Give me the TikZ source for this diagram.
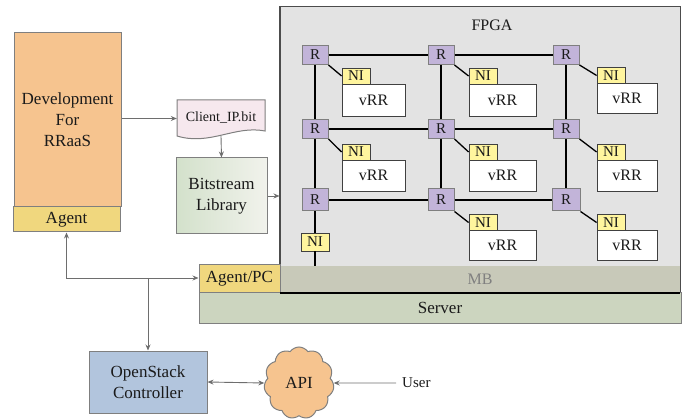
\documentclass[tikz,border=0pt]{standalone}
\usepackage{fontspec}
\setmainfont{Liberation Serif}
\usetikzlibrary{shapes.symbols,arrows.meta}
\definecolor{bordergray}{HTML}{7F7F7F}
\definecolor{devfill}{HTML}{F6C48F}
\definecolor{agentfill}{HTML}{F0D77E}
\definecolor{clientfill}{HTML}{F6E8EE}
\definecolor{bitleft}{HTML}{D3E1CB}
\definecolor{bitright}{HTML}{F1F2EC}
\definecolor{fpgafill}{HTML}{E3E3E3}
\definecolor{mbfill}{HTML}{C8C9B9}
\definecolor{serverfill}{HTML}{CCD5BF}
\definecolor{rfill}{HTML}{C2B4D9}
\definecolor{nifill}{HTML}{FFF59E}
\definecolor{osfill}{HTML}{B2C5DD}
\definecolor{apifill}{HTML}{F6C48F}
\definecolor{txt}{HTML}{1A1A1A}
\definecolor{arrowgray}{HTML}{6E6E6E}
\tikzset{
  box/.style={draw=bordergray, line width=1pt, inner sep=0pt, align=center, text=txt},
  rbox/.style={box, fill=rfill, minimum width=26pt, minimum height=19pt, font=\fontsize{15}{15}\selectfont},
  nibox/.style={draw=black!75, line width=0.8pt, fill=nifill, inner sep=0pt, minimum width=28pt, minimum height=16pt, font=\fontsize{15}{15}\selectfont, text=txt},
  vrrbox/.style={draw=black!75, line width=0.8pt, fill=white, inner sep=0pt, font=\fontsize{16}{16}\selectfont, text=txt},
  grid/.style={line width=1.6pt, black},
  thingrid/.style={line width=1.1pt, black},
  diag/.style={line width=1.3pt, black},
  conn/.style={draw=arrowgray, line width=0.9pt, -{Stealth[length=6pt,width=5pt]}},
}
\begin{document}
\begin{tikzpicture}[x=1pt,y=-1pt]
\useasboundingbox (0,0) rectangle (698,419);

% Left side
\node[box, fill=devfill, minimum width=107pt, minimum height=174pt, font=\fontsize{17}{21}\selectfont] (dev) at (67.5,120) {Development\\For\\RRaaS};
\node[box, fill=agentfill, minimum width=107pt, minimum height=25pt, font=\fontsize{17}{17}\selectfont] (agent) at (66.5,219.5) {Agent};

\node[inner sep=0pt, minimum width=88pt, minimum height=37pt, font=\fontsize{14}{14}\selectfont, text=txt] (client) at (221,118.5) {};
\fill[clientfill] (177,100) -- (265,100) -- (265,131) .. controls (235,125) and (210,146) .. (177,136) -- cycle;
\draw[bordergray, line width=1pt] (177,100) -- (265,100) -- (265,131) .. controls (235,125) and (210,146) .. (177,136) -- cycle;
\node[font=\fontsize{14}{14}\selectfont, text=txt, inner sep=0pt] (clienttext) at (221,118) {Client\_IP.bit};

\node[box, left color=bitleft, right color=bitright, minimum width=91pt, minimum height=76pt, font=\fontsize{17}{21}\selectfont] (bit) at (221.5,196) {Bitstream\\Library};

% FPGA
\node[draw=black!70, line width=1pt, fill=fpgafill, minimum width=400pt, minimum height=286pt, inner sep=0pt] (fpga) at (480,150) {};
\node[box, draw=none, fill=mbfill, minimum width=399pt, minimum height=26pt, font=\fontsize{16}{16}\selectfont, text=black!50] (mb) at (480,279.5) {MB};
\draw[black!70, line width=1pt] (fpga.north west) rectangle (fpga.south east);
\node[font=\fontsize{16}{16}\selectfont, text=txt] (fpgalabel) at (492,25) {FPGA};

\node[box, fill=serverfill, minimum width=482pt, minimum height=30pt, font=\fontsize{17}{17}\selectfont] (server) at (440,308) {Server};
\node[box, fill=agentfill, minimum width=81pt, minimum height=28pt, font=\fontsize{17}{17}\selectfont] (agentpc) at (239.5,279) {Agent/PC};
\draw[black, line width=1.2pt] (280,293) -- (680,293);

% Routers
\node[rbox] (r11) at (315,55) {R};
\node[rbox] (r12) at (441,55) {R};
\node[rbox] (r13) at (566,55) {R};
\node[rbox] (r21) at (315,129) {R};
\node[rbox] (r22) at (441,129) {R};
\node[rbox] (r23) at (566,129) {R};
\node[rbox, minimum height=22pt] (r31) at (315,200) {R};
\node[rbox, minimum height=22pt] (r32) at (441,200) {R};
\node[rbox, minimum height=22pt, minimum width=28pt] (r33) at (566,200) {R};

% NIs and vRRs
\node[nibox] (n11) at (356,76) {NI};
\node[vrrbox, minimum width=63pt, minimum height=32pt] (v11) at (373.5,100) {vRR};
\node[nibox] (n12) at (483,76) {NI};
\node[vrrbox, minimum width=67pt, minimum height=32pt] (v12) at (502.5,100) {vRR};
\node[nibox] (n13) at (611,75.5) {NI};
\node[vrrbox, minimum width=60pt, minimum height=30pt] (v13) at (627,98) {vRR};

\node[nibox] (n21) at (356,152) {NI};
\node[vrrbox, minimum width=63pt, minimum height=31pt] (v21) at (373.5,175.5) {vRR};
\node[nibox] (n22) at (483,152) {NI};
\node[vrrbox, minimum width=67pt, minimum height=31pt] (v22) at (502.5,175.5) {vRR};
\node[nibox] (n23) at (611,152) {NI};
\node[vrrbox, minimum width=60pt, minimum height=31pt] (v23) at (627,175.5) {vRR};

\node[nibox] (n32) at (483,222.5) {NI};
\node[vrrbox, minimum width=67pt, minimum height=30pt] (v32) at (502.5,245) {vRR};
\node[nibox] (n33) at (611,222.5) {NI};
\node[vrrbox, minimum width=60pt, minimum height=30pt] (v33) at (627,245) {vRR};

\node[nibox, minimum height=18pt] (n31) at (315,242) {NI};
\coordinate (mbtop) at (315,266);

% Grid lines
\begin{scope}[on background layer/.style={}]
\end{scope}
\draw[grid] (r11) -- (r12);
\draw[grid] (r12) -- (r13);
\draw[grid] (r21) -- (r22);
\draw[grid] (r22) -- (r23);
\draw[grid] (r31) -- (r32);
\draw[grid] (r32) -- (r33);
\draw[grid] (r11) -- (r21);
\draw[grid] (r21) -- (r31);
\draw[grid] (r31) -- (n31);
\draw[grid] (n31) -- (mbtop);
\draw[thingrid] (r12) -- (r22);
\draw[thingrid] (r22) -- (r32);
\draw[grid] (r13) -- (r23);
\draw[grid] (r23) -- (r33);

\draw[diag] (r11.south east) -- (n11.west);
\draw[diag] (r12.south east) -- (n12.west);
\draw[diag] (r13.south east) -- (n13.west);
\draw[diag] (r21.south east) -- (n21.west);
\draw[diag] (r22.south east) -- (n22.west);
\draw[diag] (r23.south east) -- (n23.west);
\draw[diag] (r32.south east) -- (n32.west);
\draw[diag] (r33.south east) -- (n33.west);

% Bottom
\node[box, fill=osfill, minimum width=118pt, minimum height=62pt, font=\fontsize{17}{21}\selectfont] (os) at (148,382) {OpenStack\\Controller};
\node[cloud, cloud puffs=11, cloud puff arc=110, aspect=0.95, draw=bordergray, line width=1pt, fill=apifill, minimum width=70pt, minimum height=72pt, inner sep=0pt, font=\fontsize{17}{17}\selectfont, text=txt] (api) at (299,383) {API};
\node[font=\fontsize{15}{15}\selectfont, text=txt, anchor=west, inner sep=0pt] (user) at (402,383) {User};

% Connectors
\draw[conn] (dev.east |- client) -- (client.west);
\draw[conn] (client.south) ++(0,-1) -- (bit.north);
\draw[conn] (bit.east) -- (fpga.west |- bit.east);
\coordinate (junc) at (148,278);
\draw[conn] (junc) -| (agent.south);
\draw[conn] (junc) -- (agentpc.west |- junc);
\draw[conn] (junc) -- (os.north);
\draw[draw=arrowgray, line width=0.9pt, {Stealth[length=6pt,width=5pt]}-{Stealth[length=6pt,width=5pt]}] (os.east) -- (api.west);
\draw[conn] (user.west) ++(-6,0) -- (api.east);
\end{tikzpicture}
\end{document}
